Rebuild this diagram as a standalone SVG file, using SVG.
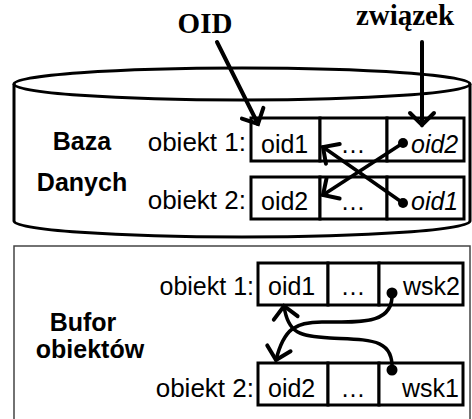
<svg xmlns="http://www.w3.org/2000/svg" width="472" height="419" viewBox="0 0 472 419">
<style>
.t{font-family:"Liberation Sans",Arial,sans-serif;font-size:25px;fill:#000}
.o{font-family:"Liberation Sans",Arial,sans-serif;font-size:26px;fill:#000}
.b{font-family:"Liberation Sans",Arial,sans-serif;font-size:25px;font-weight:bold;fill:#000}
.s{font-family:"Liberation Serif","Times New Roman",serif;font-size:29px;font-weight:bold;fill:#000}
.i{font-style:italic}
.box{fill:#fff;stroke:#000;stroke-width:3}
.ln{fill:none;stroke:#000;stroke-width:4;stroke-linecap:round}
.ln2{fill:none;stroke:#000;stroke-width:3.5;stroke-linecap:round}
</style>
<defs>
<marker id="ah" markerUnits="userSpaceOnUse" markerWidth="40" markerHeight="40" refX="0" refY="0" viewBox="-20 -20 40 40" orient="auto" overflow="visible">
<path d="M -12 -12 L 0 0 L -12 12" fill="none" stroke="#000" stroke-width="4" stroke-linecap="round" stroke-linejoin="miter"/>
</marker>
</defs>
<rect width="472" height="419" fill="#fff"/>
<g id="db">
<path d="M 14 84 L 14 221 A 228 16 0 0 0 470 221 L 470 84" fill="#fff" stroke="#000" stroke-width="3"/>
<ellipse cx="242" cy="84" rx="228" ry="16" fill="#fff" stroke="#000" stroke-width="3"/>
<text class="b" x="82" y="150" text-anchor="middle">Baza</text>
<text class="b" x="82" y="191" text-anchor="middle">Danych</text>
</g>
<g id="db-obj1">
<text class="o" x="246" y="151" text-anchor="end">obiekt 1:</text>
<rect class="box" x="251" y="118" width="69" height="43"/>
<rect class="box" x="320" y="118" width="67" height="43"/>
<rect class="box" x="387" y="118" width="77" height="43"/>
<text class="t" x="261" y="153">oid1</text>
<text class="t" x="353" y="153" text-anchor="middle">…</text>
<text class="t i" x="411" y="153">oid2</text>
</g>
<g id="db-obj2">
<text class="o" x="246" y="209" text-anchor="end">obiekt 2:</text>
<rect class="box" x="251" y="177" width="69" height="42"/>
<rect class="box" x="320" y="177" width="67" height="42"/>
<rect class="box" x="387" y="177" width="77" height="42"/>
<text class="t" x="261" y="210">oid2</text>
<text class="t" x="353" y="210" text-anchor="middle">…</text>
<text class="t i" x="411" y="210">oid1</text>
</g>
<g id="buf">
<rect x="14" y="246" width="456" height="200" fill="#fff" stroke="#444" stroke-width="1.5"/>
<text class="b" x="83" y="331" text-anchor="middle">Bufor</text>
<text class="b" x="90" y="358" text-anchor="middle">obiektów</text>
</g>
<g id="buf-obj1">
<text class="t" x="254" y="295" text-anchor="end">obiekt 1:</text>
<rect class="box" x="258" y="263" width="70" height="42"/>
<rect class="box" x="328" y="263" width="51" height="42"/>
<rect class="box" x="379" y="263" width="84" height="42"/>
<text class="t" x="268" y="295">oid1</text>
<text class="t" x="353" y="295" text-anchor="middle">…</text>
<text class="t" x="403" y="295">wsk2</text>
</g>
<g id="buf-obj2">
<text class="o" x="254" y="397" text-anchor="end">obiekt 2:</text>
<rect class="box" x="258" y="363" width="70" height="42"/>
<rect class="box" x="328" y="363" width="51" height="42"/>
<rect class="box" x="379" y="363" width="84" height="42"/>
<text class="t" x="268" y="397">oid2</text>
<text class="t" x="353" y="397" text-anchor="middle">…</text>
<text class="t" x="402" y="397">wsk1</text>
</g>
<g id="labels">
<text class="s" x="205" y="33" text-anchor="middle">OID</text>
<text class="s" x="405" y="25" text-anchor="middle">związek</text>
</g>
<g id="connectors">
<line class="ln" x1="217" y1="42" x2="258" y2="124" marker-end="url(#ah)"/>
<line class="ln" x1="422" y1="42" x2="422" y2="125" marker-end="url(#ah)"/>
<line class="ln2" x1="403" y1="143" x2="323" y2="195" marker-end="url(#ah)"/>
<line class="ln2" x1="403" y1="203" x2="323" y2="147" marker-end="url(#ah)"/>
<circle cx="403" cy="143" r="5"/>
<circle cx="403" cy="203" r="5"/>
<path class="ln2" d="M 392 293 C 394 325, 360 322, 322 322 C 296 322, 284 328, 276 360" marker-end="url(#ah)"/>
<path class="ln2" d="M 392 370 C 394 338, 370 340, 330 338 C 300 336, 288 334, 284 306" marker-end="url(#ah)"/>
<circle cx="392" cy="293" r="5.5"/>
<circle cx="392" cy="370" r="5.5"/>
</g>
</svg>
